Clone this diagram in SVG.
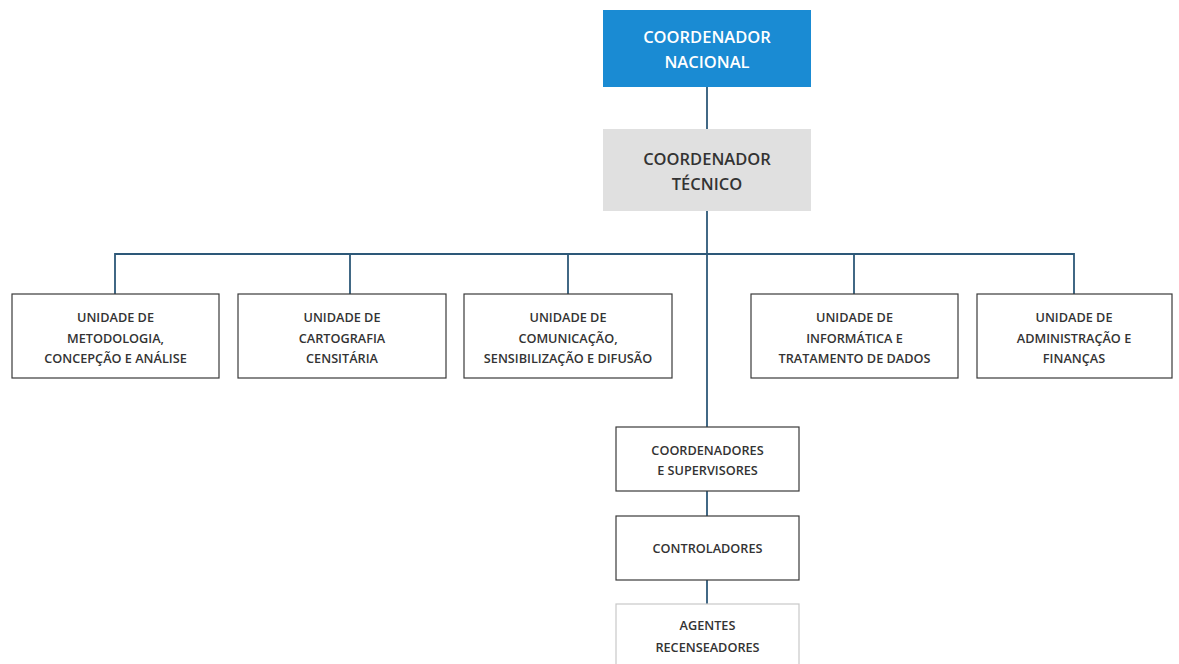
<svg xmlns="http://www.w3.org/2000/svg" width="1179" height="664" viewBox="0 0 1179 664">
<style>
.box{fill:#ffffff;stroke:#3a3a3a;stroke-width:1.2}
.lt{fill:#ffffff;stroke:#c8c8c8;stroke-width:1.2}
.t{font-family:"Open Sans","Liberation Sans",sans-serif;font-size:12.7px;font-weight:600;fill:#333333;text-anchor:middle}
.big{font-family:"Open Sans","Liberation Sans",sans-serif;font-size:16.5px;font-weight:600;text-anchor:middle}
.conn{stroke:#2d5878;stroke-width:1.8;fill:none}
</style>
<rect width="1179" height="664" fill="#ffffff"/>
<g id="connectors">
<line class="conn" x1="707" y1="87" x2="707" y2="129"/>
<line class="conn" x1="707" y1="211" x2="707" y2="427"/>
<polyline class="conn" points="115,294 115,254 1074,254 1074,294"/>
<line class="conn" x1="350" y1="254" x2="350" y2="294"/>
<line class="conn" x1="568" y1="254" x2="568" y2="294"/>
<line class="conn" x1="854" y1="254" x2="854" y2="294"/>
<line class="conn" x1="707" y1="491" x2="707" y2="516"/>
<line class="conn" x1="707" y1="580" x2="707" y2="604"/>
</g>
<g id="coord-nacional">
<rect x="603" y="10" width="208" height="77" fill="#1a8bd3"/>
<text class="big" x="707" y="43" fill="#ffffff">COORDENADOR</text>
<text class="big" x="707" y="68" fill="#ffffff">NACIONAL</text>
</g>
<g id="coord-tecnico">
<rect x="603" y="129" width="208" height="82" fill="#e0e0e0"/>
<text class="big" x="707" y="165" fill="#333333">COORDENADOR</text>
<text class="big" x="707" y="190" fill="#333333">TÉCNICO</text>
</g>
<g id="u-metodologia">
<rect class="box" x="12" y="294" width="207" height="84"/>
<text class="t" x="115.5" y="322">UNIDADE DE</text>
<text class="t" x="115.5" y="343">METODOLOGIA,</text>
<text class="t" x="115.5" y="363">CONCEPÇÃO E ANÁLISE</text>
</g>
<g id="u-cartografia">
<rect class="box" x="238" y="294" width="208" height="84"/>
<text class="t" x="342" y="322">UNIDADE DE</text>
<text class="t" x="342" y="343">CARTOGRAFIA</text>
<text class="t" x="342" y="363">CENSITÁRIA</text>
</g>
<g id="u-comunicacao">
<rect class="box" x="464" y="294" width="208" height="84"/>
<text class="t" x="568" y="322">UNIDADE DE</text>
<text class="t" x="568" y="343">COMUNICAÇÃO,</text>
<text class="t" x="568" y="363">SENSIBILIZAÇÃO E DIFUSÃO</text>
</g>
<g id="u-informatica">
<rect class="box" x="751" y="294" width="207" height="84"/>
<text class="t" x="854.5" y="322">UNIDADE DE</text>
<text class="t" x="854.5" y="343">INFORMÁTICA E</text>
<text class="t" x="854.5" y="363">TRATAMENTO DE DADOS</text>
</g>
<g id="u-administracao">
<rect class="box" x="977" y="294" width="195" height="84"/>
<text class="t" x="1074" y="322">UNIDADE DE</text>
<text class="t" x="1074" y="343">ADMINISTRAÇÃO E</text>
<text class="t" x="1074" y="363">FINANÇAS</text>
</g>
<g id="coordenadores">
<rect class="box" x="616" y="427" width="183" height="64"/>
<text class="t" x="707.5" y="455">COORDENADORES</text>
<text class="t" x="707.5" y="475">E SUPERVISORES</text>
</g>
<g id="controladores">
<rect class="box" x="616" y="516" width="183" height="64"/>
<text class="t" x="707.5" y="553">CONTROLADORES</text>
</g>
<g id="agentes">
<rect class="lt" x="616" y="604" width="183" height="70"/>
<text class="t" x="707.5" y="630">AGENTES</text>
<text class="t" x="707.5" y="652">RECENSEADORES</text>
</g>
</svg>
